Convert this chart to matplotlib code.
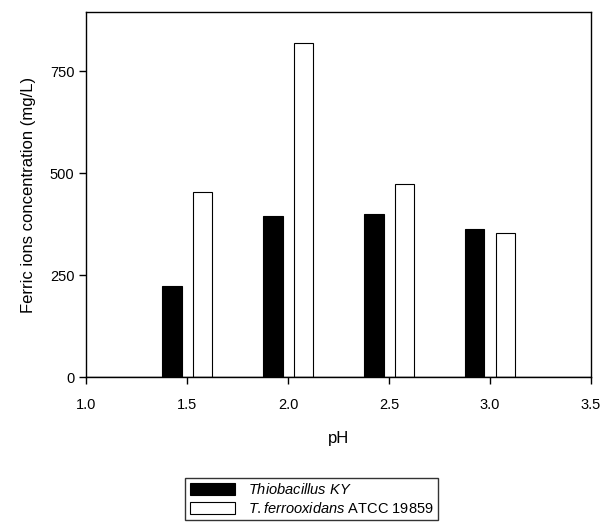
import matplotlib
matplotlib.use("Agg")
import matplotlib.pyplot as plt
import numpy as np

plt.rcParams['font.family'] = ['Liberation Sans', 'DejaVu Sans']
plt.rcParams['mathtext.fontset'] = 'custom'
plt.rcParams['mathtext.rm'] = 'Liberation Sans'
plt.rcParams['mathtext.it'] = 'Liberation Sans:italic'

# data
ph = np.array([1.5, 2.0, 2.5, 3.0])
thio_ky = [223, 395, 401, 364]
t_ferro = [453, 820, 473, 354]
labels = [r'$\it{Thiobacillus\ KY}$', r'$\it{T{.}ferrooxidans}$ ATCC 19859']

fig = plt.figure(figsize=(6.03, 5.26), dpi=100)
ax = fig.add_axes([0.143, 0.283, 0.837, 0.694])

width = 0.095
ax.bar(ph - 0.075, thio_ky, width, color='black', edgecolor='black', linewidth=0.8, label=labels[0])
ax.bar(ph + 0.075, t_ferro, width, color='white', edgecolor='black', linewidth=0.8, label=labels[1])
ax.axhline(0, color='black', linewidth=1)

ax.set_xlim(1.0, 3.5)
ax.set_ylim(0, 895)
ax.set_xticks([1.0, 1.5, 2.0, 2.5, 3.0, 3.5])
ax.set_xticklabels(['1.0', '1.5', '2.0', '2.5', '3.0', '3.5'])
ax.set_yticks([0, 250, 500, 750])
ax.tick_params(direction='out', length=5, width=1, labelsize=10.5)
ax.tick_params(axis='x', pad=10)
for s in ax.spines.values():
    s.set_linewidth(1)

ax.set_xlabel('pH', fontsize=12, labelpad=14)
ax.set_ylabel('Ferric ions concentration (mg/L)', fontsize=12, labelpad=10)

leg = fig.legend(loc='upper center', bbox_to_anchor=(0.517, 0.1), fontsize=10.5,
                 frameon=True, fancybox=False, edgecolor='black', handlelength=3.1,
                 handleheight=0.9, borderpad=0.3, labelspacing=0.25, handletextpad=0.9,
                 borderaxespad=0.3)
leg.get_frame().set_linewidth(1)

fig.savefig('out.png', dpi=100)
